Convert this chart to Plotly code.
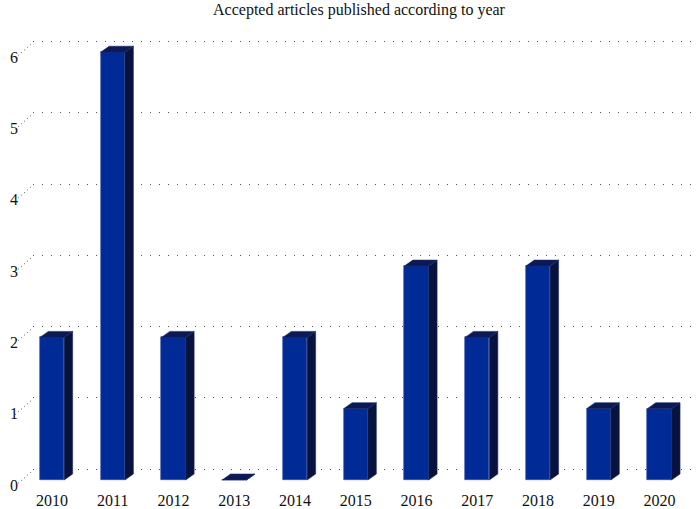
import plotly.graph_objects as go

years = ["2010", "2011", "2012", "2013", "2014", "2015", "2016", "2017", "2018", "2019", "2020"]
counts = [2, 6, 2, 0, 2, 1, 3, 2, 3, 1, 1]
y_ticks = [0, 1, 2, 3, 4, 5, 6]
title_text = "Accepted articles published according to year"

# style constants (page pixels)
W, H = 696, 509
ML, MR, MT, MB = 33, 0, 30, 25
PX_PER_Y = 71.3
PX_PER_X = 60.74
BAR_W = 0.4
DX = 8.5 / PX_PER_X      # bar depth (x units)
DY = 6.0 / PX_PER_Y      # bar depth (y units)
WALL_DY = 10.8 / PX_PER_Y
FRONT = "#002b96"
SIDE = "#07123f"
TOP = "#0b1a55"
SERIF = "Liberation Serif"

plot_w = W - ML - MR
plot_h = H - MT - MB
x0 = -(52 - ML) / PX_PER_X
x1 = x0 + plot_w / PX_PER_X
y0 = -((H - MB) - 480) / PX_PER_Y
y1 = y0 + plot_h / PX_PER_Y

xs = list(range(len(years)))

fig = go.Figure()

# side faces
sx, sy = [], []
for x, v in zip(xs, counts):
    r = x + BAR_W / 2
    sx += [r, r + DX, r + DX, r, r, None]
    sy += [0, DY, v + DY, v, 0, None]
fig.add_trace(go.Scatter(x=sx, y=sy, fill="toself", fillcolor=SIDE, mode="lines",
                         line=dict(color="#1c2a66", width=0.6), hoverinfo="skip", showlegend=False))
# top faces
tx, ty = [], []
for x, v in zip(xs, counts):
    l, r = x - BAR_W / 2, x + BAR_W / 2
    tx += [l, r, r + DX, l + DX, l, None]
    ty += [v, v, v + DY, v + DY, v, None]
fig.add_trace(go.Scatter(x=tx, y=ty, fill="toself", fillcolor=TOP, mode="lines",
                         line=dict(color="#1c2a66", width=0.6), hoverinfo="skip", showlegend=False))
# front faces
fig.add_trace(go.Bar(x=xs, y=counts, width=BAR_W,
                     marker=dict(color=FRONT, line=dict(color="#2a4aa8", width=0.6)),
                     showlegend=False, hoverinfo="x+y"))

# invisible trace on wall axis to carry gridlines
fig.add_trace(go.Scatter(x=[xs[0]], y=[y_ticks[0]], yaxis="y2", mode="markers",
                         marker=dict(opacity=0), hoverinfo="skip", showlegend=False))

# diagonal connector ticks from labels to wall gridlines
for t in y_ticks:
    fig.add_shape(type="line", xref="paper", yref="y",
                  x0=(15 - ML) / plot_w, x1=(31 - ML) / plot_w,
                  y0=t - 6 / PX_PER_Y, y1=t + 8 / PX_PER_Y,
                  line=dict(color="#555555", width=1, dash="1px,3px"))

fig.update_layout(
    width=W, height=H,
    margin=dict(l=ML, r=MR, t=MT, b=MB),
    paper_bgcolor="white", plot_bgcolor="white",
    title=dict(text=title_text, x=359 / W, xref="container", xanchor="center",
               y=1 - 9 / H, yref="container", yanchor="middle",
               font=dict(family=SERIF, size=16, color="#111111")),
    xaxis=dict(range=[x0, x1], tickmode="array", tickvals=xs, ticktext=years,
               showgrid=False, zeroline=False, showline=False, ticks="",
               ticklabelstandoff=5,
               tickfont=dict(family=SERIF, size=16, color="#111111")),
    yaxis=dict(range=[y0, y1], tickmode="array", tickvals=y_ticks,
               showgrid=False, zeroline=False, showline=False, ticks="",
               ticklabelstandoff=14, ticklabelshift=5,
               tickfont=dict(family=SERIF, size=16, color="#111111")),
    yaxis2=dict(range=[y0 - WALL_DY, y1 - WALL_DY], overlaying="y", tickmode="array",
                tickvals=y_ticks, showticklabels=False, showgrid=True,
                gridcolor="#555555", gridwidth=1, griddash="1px,8px",
                zeroline=False, showline=False, ticks=""),
    bargap=0,
)

fig.write_html("out.html", config={"displayModeBar": False},
               post_script="document.body.style.margin='0';")
